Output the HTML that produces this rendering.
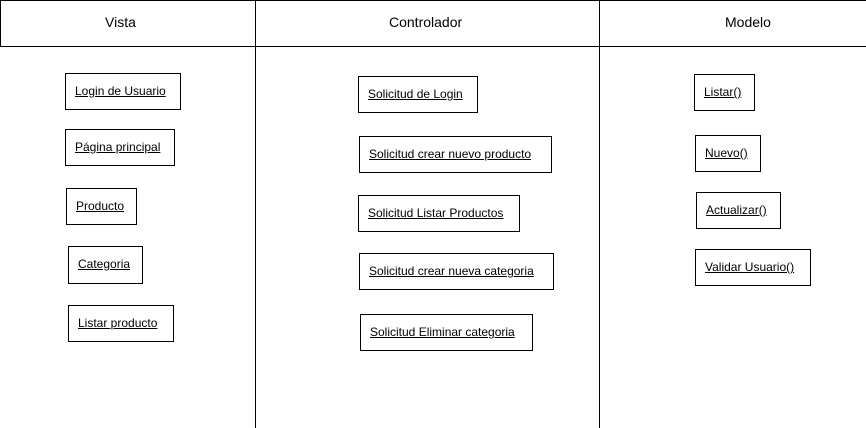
<!DOCTYPE html>
<html><head><style>
body{margin:0;width:866px;height:428px;background:#fff;position:relative;overflow:hidden;font-family:"Liberation Sans",sans-serif;}
.l{position:absolute;background:#000;}
.h{position:absolute;top:14px;font-size:14px;color:#000;}
.b{position:absolute;border:1px solid #000;box-sizing:border-box;font-size:12px;padding-left:9px;line-height:34px;white-space:nowrap;}
.b span{text-decoration:underline;}
</style></head><body>
<div class="l" style="left:0;top:0;width:866px;height:1px"></div>
<div class="l" style="left:0;top:46px;width:866px;height:1px"></div>
<div class="l" style="left:0;top:0;width:1px;height:47px"></div>
<div class="l" style="left:255px;top:0;width:1px;height:428px"></div>
<div class="l" style="left:599px;top:0;width:1px;height:428px"></div>
<div class="h" style="left:105px">Vista</div>
<div class="h" style="left:389px">Controlador</div>
<div class="h" style="left:725px">Modelo</div>

<div class="b" style="left:65px;top:73px;width:116px;height:37px"><span>Login de Usuario</span></div>
<div class="b" style="left:65px;top:129px;width:110px;height:37px"><span>Página principal</span></div>
<div class="b" style="left:66px;top:188px;width:71px;height:37px"><span>Producto</span></div>
<div class="b" style="left:68px;top:246px;width:75px;height:38px"><span>Categoria</span></div>
<div class="b" style="left:68px;top:305px;width:106px;height:37px"><span>Listar producto</span></div>

<div class="b" style="left:358px;top:76px;width:120px;height:37px"><span>Solicitud de Login</span></div>
<div class="b" style="left:359px;top:136px;width:193px;height:37px"><span>Solicitud crear nuevo producto</span></div>
<div class="b" style="left:358px;top:195px;width:162px;height:37px"><span>Solicitud Listar Productos</span></div>
<div class="b" style="left:359px;top:253px;width:195px;height:37px"><span>Solicitud crear nueva categoria</span></div>
<div class="b" style="left:360px;top:314px;width:173px;height:37px"><span>Solicitud Eliminar categoria</span></div>

<div class="b" style="left:694px;top:74px;width:61px;height:37px"><span>Listar()</span></div>
<div class="b" style="left:695px;top:135px;width:66px;height:37px"><span>Nuevo()</span></div>
<div class="b" style="left:696px;top:192px;width:85px;height:37px"><span>Actualizar()</span></div>
<div class="b" style="left:695px;top:249px;width:116px;height:37px"><span>Validar Usuario()</span></div>
</body></html>
